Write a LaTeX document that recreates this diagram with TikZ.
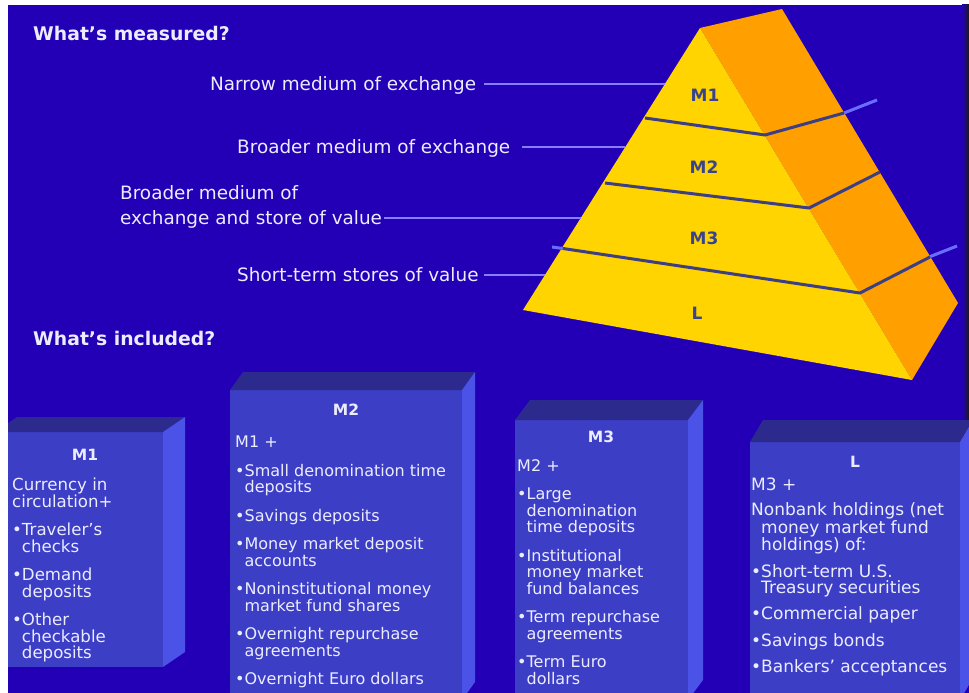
\documentclass[tikz,border=0pt]{standalone}
\usepackage{fontspec}
\setmainfont{DejaVu Sans}
\usepackage{tikz}
\tikzset{
	>=latex,
}
\usetikzlibrary{calc}
\definecolor{bgblue}{RGB}{35,0,182}
\definecolor{gold}{RGB}{255,212,0}
\definecolor{amber}{RGB}{255,160,0}
\definecolor{bandline}{RGB}{62,62,130}
\definecolor{beam}{RGB}{105,110,255}
\definecolor{leadcol}{RGB}{135,125,255}
\definecolor{frontblue}{RGB}{60,62,198}
\definecolor{topblue}{RGB}{44,42,140}
\definecolor{sideblue}{RGB}{75,82,232}
\definecolor{paleink}{RGB}{236,236,255}
\definecolor{tierink}{RGB}{58,68,140}
\newcommand{\pushin}{\phantom{•}}
\tikzstyle{measure}=[inner sep=0pt,text=paleink,text height=14pt,text depth=2pt,
    font=\fontsize{18.4}{25}\selectfont]
\tikzstyle{heading}=[inner sep=0pt,text=paleink,font=\fontsize{18.8}{22}\selectfont\bfseries]
\tikzstyle{leader}=[draw=leadcol,line width=2pt]
\tikzstyle{band}=[draw=bandline,line width=3pt,line join=round]
\tikzstyle{beamline}=[draw=beam,line width=3pt]
\tikzstyle{tier}=[text=tierink,font=\fontsize{17}{20}\selectfont\bfseries]
\tikzstyle{boxtitle}=[inner sep=0pt,text=paleink,font=\fontsize{15.5}{18}\selectfont\bfseries]
\tikzstyle{boxtext}=[inner sep=0pt,text=paleink,align=left,anchor=north west,
    font=\fontsize{16}{16.5}\selectfont]

\begin{document}
\begin{tikzpicture}[x=1pt,y=-1pt]
      \useasboundingbox (0,0) rectangle (969,693);
      \fill[white] (0,0) rectangle (969,693);
      \fill[bgblue] (8,5) rectangle (969,693);
      \shade[left color=bgblue,right color=black!90] (962,5) rectangle (969,420);
      \coordinate (apex) at (700,28);
      \coordinate (back) at (782,9);
      \coordinate (backfoot) at (958,303);
      \coordinate (foot) at (912,380);
      \coordinate (heel) at (523,310);
      \fill[amber] (apex) -- (back) -- (backfoot) -- (foot) -- cycle;
      \fill[gold] (apex) -- (foot) -- (heel) -- cycle;
      \draw[beamline] (844,113) -- (877,100);
      \draw[band] (645,118) -- (765,135) -- (844,113);
      \draw[band] (605,183) -- (809,208) -- (880,172);
      \draw[beamline] (552,247) -- (563,248.5);
      \draw[beamline] (929,257) -- (957,246);
      \draw[band] (563,248.5) -- (860,293) -- (930,257);
      \foreach \name/\xx/\yy in {M1/705/95,M2/704/167,M3/704/238,L/697/313}
        \node[tier] (tier\name) at (\xx,\yy) {\name};
      \node[heading,anchor=west] (measured) at (33,33) {What’s measured?};
      \node[measure,anchor=west] (narrow) at (210,84) {Narrow medium of exchange};
      \node[measure,anchor=west] (broad) at (237,147) {Broader medium of exchange};
      \node[measure,anchor=west] (storea) at (120,193) {Broader medium of};
      \node[measure,anchor=west] (storeb) at (120,218) {exchange and store of value};
      \node[measure,anchor=west] (short) at (237,275) {Short-term stores of value};
      \node[heading,anchor=west] (included) at (33,338) {What’s included?};
      \coordinate (e1) at ($(apex)!0.199!(heel)$);
      \coordinate (e2) at ($(apex)!0.422!(heel)$);
      \coordinate (e3) at ($(apex)!0.674!(heel)$);
      \coordinate (e4) at ($(apex)!0.876!(heel)$);
      \draw[leader,shorten <=8pt] (narrow) -- (narrow -| e1);
      \draw[leader,shorten <=12pt] (broad) -- (broad -| e2);
      \draw[leader,shorten <=2pt] (storeb) -- (storeb -| e3);
      \draw[leader,shorten <=5pt] (short) -- (short -| e4);
      \begin{scope}
        \clip (8,5) rectangle (969,693);
        \foreach \xa/\xb/\yt/\yb/\dx/\dy in {-5/163/432/667/22/15,230/462/390/700/13/18,
            515/688/420/700/15/20,750/960/442/700/13/22}{
          \fill[frontblue] (\xa,\yt) rectangle (\xb,\yb);
          \fill[topblue] (\xa,\yt) -- (\xb,\yt) -- ++(\dx,-\dy) -- (\xa+\dx,\yt-\dy) -- cycle;
          \fill[sideblue] (\xb,\yt) -- ++(\dx,-\dy) -- (\xb+\dx,\yb-\dy) -- (\xb,\yb) -- cycle;
        }
      \end{scope}
      \node[boxtitle] (mahead) at (85,455) {M1};
      \node[boxtext,font=\fontsize{16.6}{16.5}\selectfont] (malist) at (12,478) {Currency in\\circulation+\\[12pt]%
        •Traveler’s\\\pushin checks\\[12pt]•Demand\\\pushin deposits\\[12pt]%
        •Other\\\pushin checkable\\\pushin deposits};
      \node[boxtitle] (mbhead) at (346,410) {M2};
      \node[boxtext] (mblist) at (235,436) {M1 +\\[12pt]•Small denomination time\\%
        \pushin deposits\\[12pt]•Savings deposits\\[12pt]•Money market deposit\\%
        \pushin accounts\\[12pt]•Noninstitutional money\\\pushin market fund shares\\[12pt]%
        •Overnight repurchase\\\pushin agreements\\[12pt]•Overnight Euro dollars};
      \node[boxtitle] (mchead) at (601,437) {M3};
      \node[boxtext] (mclist) at (517,459) {M2 +\\[12pt]•Large\\\pushin denomination\\%
        \pushin time deposits\\[12pt]•Institutional\\\pushin money market\\%
        \pushin fund balances\\[12pt]•Term repurchase\\\pushin agreements\\[12pt]%
        •Term Euro\\\pushin dollars};
      \node[boxtitle] (lhead) at (855,462) {L};
      \node[boxtext,font=\fontsize{17}{16}\selectfont] (llist) at (751,478) {M3 +\\[9pt]%
        Nonbank holdings (net\\\pushin money market fund\\\pushin holdings) of:\\[9pt]%
        •Short-term U.S.\\\pushin Treasury securities\\[9pt]•Commercial paper\\[9pt]%
        •Savings bonds\\[9pt]•Bankers’ acceptances};
    \end{tikzpicture}
\end{document}
